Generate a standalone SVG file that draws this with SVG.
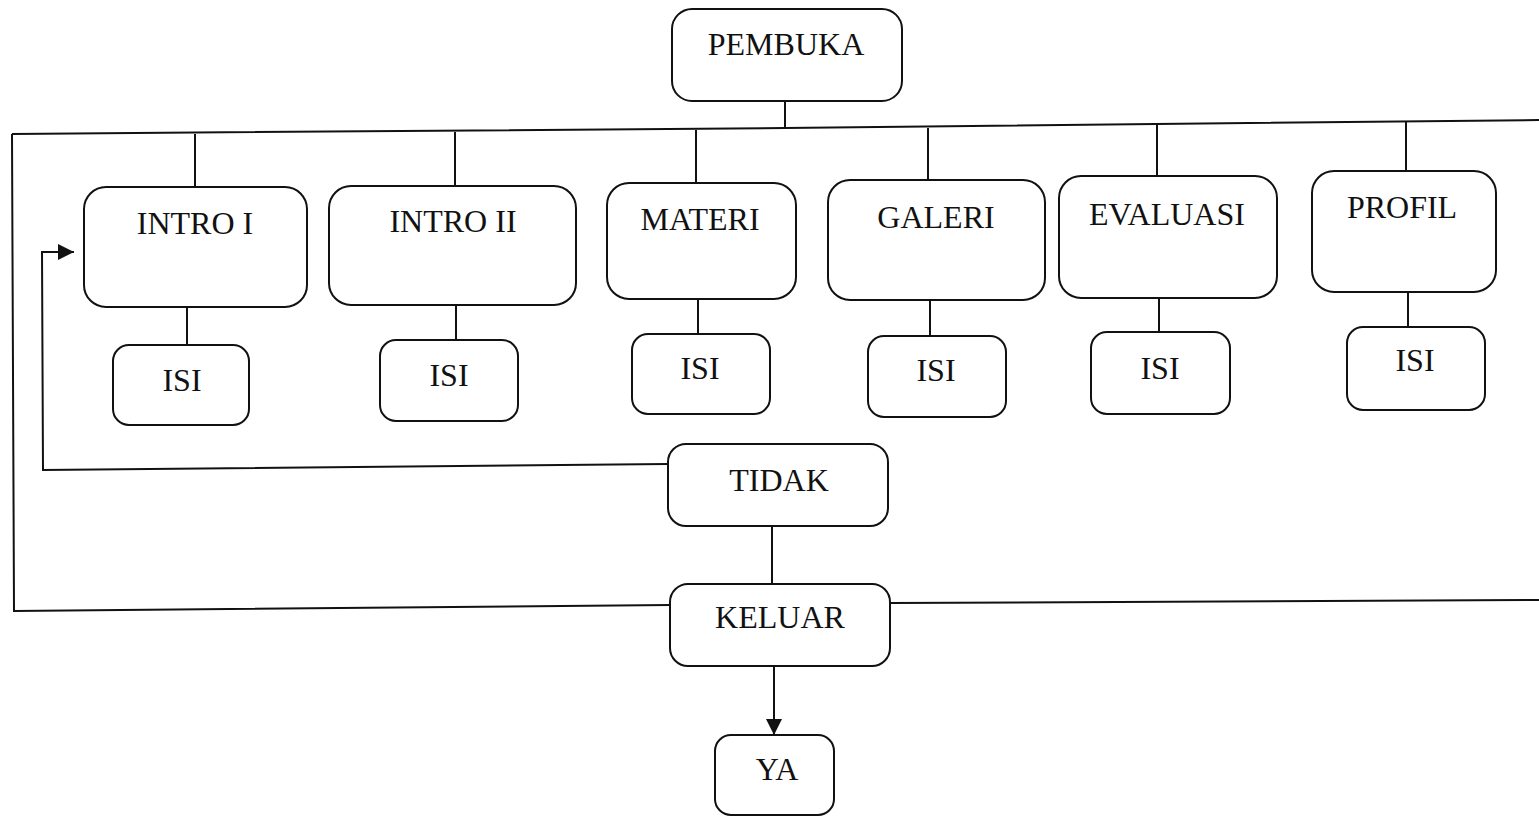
<svg xmlns="http://www.w3.org/2000/svg" width="1539" height="816" viewBox="0 0 1539 816">
<style>
.box{fill:#fff;stroke:#111;stroke-width:2}
.ln{fill:none;stroke:#111;stroke-width:2}
.t{font-family:"Liberation Serif","Times New Roman",serif;font-size:32px;fill:#111;text-anchor:middle}
</style>
<defs>
<marker id="ah2" viewBox="0 0 10 10" refX="10" refY="5" markerWidth="16" markerHeight="16" markerUnits="userSpaceOnUse" orient="auto">
<path d="M0,0 L10,5 L0,10 z" fill="#111"/>
</marker>
</defs>
<g id="connectors">
<path class="ln" d="M12,134 L785,128 L1539,120"/>
<path class="ln" d="M785,101 L785,128"/>
<path class="ln" d="M12,134 L14,611 L670,605"/>
<path class="ln" d="M890,603 L1539,600"/>
<path class="ln" d="M195,134 L195,187"/>
<path class="ln" d="M455,132 L455,186"/>
<path class="ln" d="M696,130 L696,183"/>
<path class="ln" d="M928,128 L928,180"/>
<path class="ln" d="M1157,125 L1157,176"/>
<path class="ln" d="M1406,122 L1406,171"/>
<path class="ln" d="M187,307 L187,345"/>
<path class="ln" d="M456,305 L456,340"/>
<path class="ln" d="M698,299 L698,334"/>
<path class="ln" d="M930,300 L930,336"/>
<path class="ln" d="M1159,298 L1159,332"/>
<path class="ln" d="M1408,292 L1408,327"/>
<path class="ln" d="M668,464 L43,470 L42,252 L74,252" marker-end="url(#ah2)"/>
<path class="ln" d="M772,526 L772,584"/>
<path class="ln" d="M774,666 L774,735" marker-end="url(#ah2)"/>
</g>
<g id="pembuka"><rect class="box" x="672" y="9" width="230" height="92" rx="20"/><text class="t" x="786" y="55">PEMBUKA</text></g>
<g id="intro1"><rect class="box" x="84" y="187" width="223" height="120" rx="22"/><text class="t" x="195" y="234">INTRO I</text></g>
<g id="intro2"><rect class="box" x="329" y="186" width="247" height="119" rx="22"/><text class="t" x="453" y="232">INTRO II</text></g>
<g id="materi"><rect class="box" x="607" y="183" width="189" height="116" rx="22"/><text class="t" x="700" y="230">MATERI</text></g>
<g id="galeri"><rect class="box" x="828" y="180" width="217" height="120" rx="22"/><text class="t" x="936" y="228">GALERI</text></g>
<g id="evaluasi"><rect class="box" x="1059" y="176" width="218" height="122" rx="22"/><text class="t" x="1167" y="225">EVALUASI</text></g>
<g id="profil"><rect class="box" x="1312" y="171" width="184" height="121" rx="22"/><text class="t" x="1402" y="218">PROFIL</text></g>
<g id="isi1"><rect class="box" x="113" y="345" width="136" height="80" rx="16"/><text class="t" x="182" y="391">ISI</text></g>
<g id="isi2"><rect class="box" x="380" y="340" width="138" height="81" rx="16"/><text class="t" x="449" y="386">ISI</text></g>
<g id="isi3"><rect class="box" x="632" y="334" width="138" height="80" rx="16"/><text class="t" x="700" y="379">ISI</text></g>
<g id="isi4"><rect class="box" x="868" y="336" width="138" height="81" rx="16"/><text class="t" x="936" y="381">ISI</text></g>
<g id="isi5"><rect class="box" x="1091" y="332" width="139" height="82" rx="16"/><text class="t" x="1160" y="379">ISI</text></g>
<g id="isi6"><rect class="box" x="1347" y="327" width="138" height="83" rx="16"/><text class="t" x="1415" y="371">ISI</text></g>
<g id="tidak"><rect class="box" x="668" y="444" width="220" height="82" rx="18"/><text class="t" x="779" y="491">TIDAK</text></g>
<g id="keluar"><rect class="box" x="670" y="584" width="220" height="82" rx="18"/><text class="t" x="780" y="628">KELUAR</text></g>
<g id="ya"><rect class="box" x="715" y="735" width="119" height="80" rx="16"/><text class="t" x="777" y="780">YA</text></g>
</svg>
